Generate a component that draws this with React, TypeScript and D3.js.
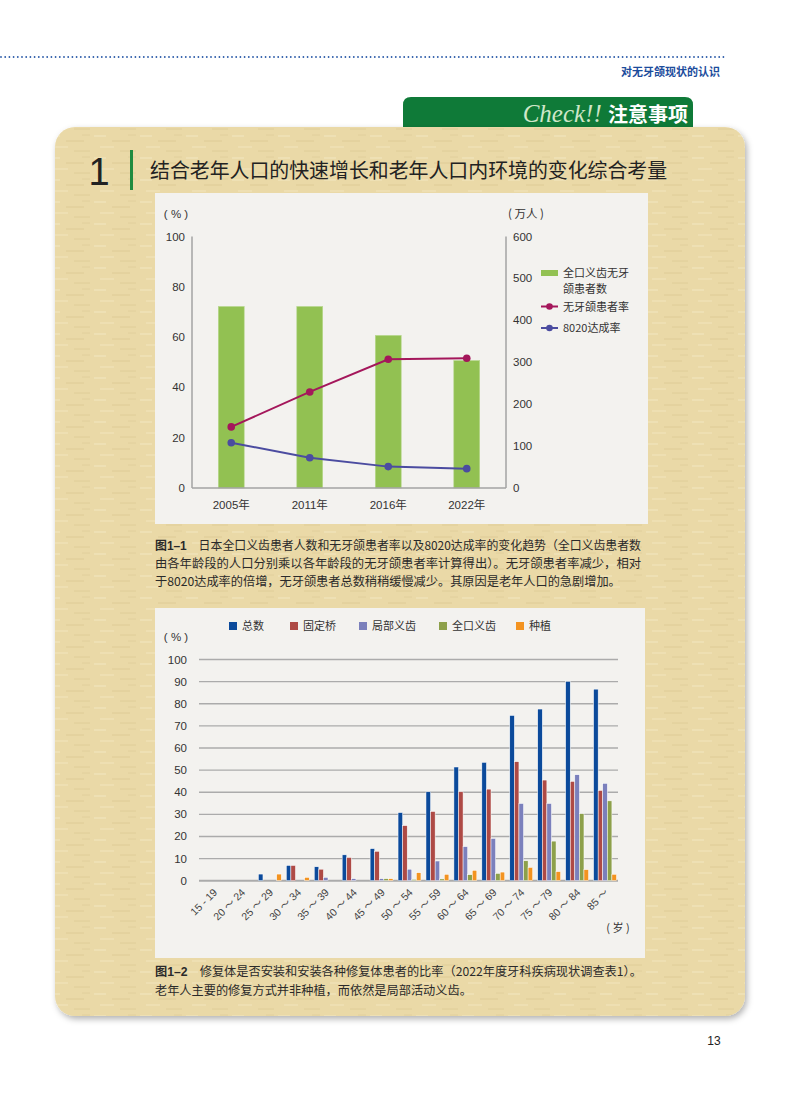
import * as d3 from 'd3';

// chart 1: trends
const years = ['2005年', '2011年', '2016年', '2022年'];
const edentulousPatients = [433, 433, 364, 304]; // 万人, right axis
const edentulousRate = [24.3, 38.2, 51.2, 51.6]; // %, left axis
const rate8020 = [18.0, 12.0, 8.5, 7.7]; // %, left axis
const leftTicks = [0, 20, 40, 60, 80, 100];
const rightTicks = [0, 100, 200, 300, 400, 500, 600];

// chart 2: prosthesis by age group
const ageGroups = ['15 - 19', '20 ～ 24', '25 ～ 29', '30 ～ 34', '35 ～ 39', '40 ～ 44', '45 ～ 49', '50 ～ 54',
  '55 ～ 59', '60 ～ 64', '65 ～ 69', '70 ～ 74', '75 ～ 79', '80 ～ 84', '85 ～'];
const seriesNames = ['总数', '固定桥', '局部义齿', '全口义齿', '种植'];
const totalPct = [0, 0, 3.0, 6.9, 6.3, 11.7, 14.5, 30.8, 40.2, 51.4, 53.5, 74.7, 77.6, 90.1, 86.6];
const bridgePct = [0, 0, 0, 6.9, 5.2, 10.5, 13.3, 24.9, 31.3, 40.2, 41.4, 53.8, 45.5, 44.9, 40.8];
const partialPct = [0, 0, 0, 0, 1.5, 0.9, 0.9, 5.2, 8.9, 15.4, 19.1, 34.9, 34.9, 47.9, 44.0];
const completePct = [0, 0, 0, 0, 0, 0, 0.9, 0.6, 0.8, 2.7, 3.3, 9.0, 17.9, 30.3, 36.1];
const implantPct = [0, 0, 3.0, 1.5, 0, 0, 0.9, 3.6, 2.9, 4.7, 3.9, 6.0, 4.1, 5.0, 2.9];
const pctTicks = [0, 10, 20, 30, 40, 50, 60, 70, 80, 90, 100];

const seriesValues = [totalPct, bridgePct, partialPct, completePct, implantPct];
const seriesColors = ['#0B4A9B', '#AE4A45', '#7B80BC', '#8DA04A', '#F39320'];

const caption1 = [
  '日本全口义齿患者人数和无牙颌患者率以及8020达成率的变化趋势（全口义齿患者数',
  '由各年龄段的人口分别乘以各年龄段的无牙颌患者率计算得出）。无牙颌患者率减少，相对',
  '于8020达成率的倍增，无牙颌患者总数稍稍缓慢减少。其原因是老年人口的急剧增加。',
];
const caption2 = [
  '修复体是否安装和安装各种修复体患者的比率（2022年度牙科疾病现状调查表1）。',
  '老年人主要的修复方式并非种植，而依然是局部活动义齿。',
];

const W = 800;
const H = 1093;
const SANS = '"Liberation Sans", "Noto Sans CJK SC", sans-serif';
const CJK = '"Noto Sans CJK SC", sans-serif';

function TrendChart() {
  const x = d3.scaleBand<string>().domain(years).range([192, 506]).paddingInner(0.67).paddingOuter(0.335);
  const yL = d3.scaleLinear().domain([0, 100]).range([488, 236.5]);
  const yR = d3.scaleLinear().domain([0, 600]).range([488, 236.5]);
  const cx = (i: number) => (x(years[i]) as number) + x.bandwidth() / 2;
  const line = d3.line<number>().x((_d, i) => cx(i)).y(d => yL(d));
  const axisColor = '#A3A3A3';

  return (
    <g fontFamily={SANS} fontSize={11.5} fill="#333">
      <rect x={155} y={193} width={493} height={331} fill="#F3F2EF" />
      <text x={176} y={218} textAnchor="middle">( % )</text>
      <text x={526} y={218} textAnchor="middle" fontFamily={CJK}>( 万人 )</text>
      {edentulousPatients.map((v, i) => (
        <rect key={i} x={x(years[i])} y={yR(v)} width={x.bandwidth()} height={yR(0) - yR(v)}
          fill="#92C152" stroke="#B7D88E" strokeWidth={0.6} />
      ))}
      <line x1={192} x2={192} y1={236.5} y2={488} stroke={axisColor} strokeWidth={1.5} />
      <line x1={506} x2={506} y1={236.5} y2={488} stroke={axisColor} strokeWidth={1.5} />
      <line x1={192} x2={506} y1={488} y2={488} stroke={axisColor} strokeWidth={1.5} />
      {leftTicks.map(t => (
        <text key={t} x={185} y={yL(t) + 4} textAnchor="end">{t}</text>
      ))}
      {rightTicks.map(t => (
        <text key={t} x={513} y={yR(t) + 4}>{t}</text>
      ))}
      {years.map((yr, i) => (
        <text key={yr} x={cx(i)} y={509} textAnchor="middle">{yr}</text>
      ))}
      <path d={line(edentulousRate) || ''} fill="none" stroke="#A4175B" strokeWidth={2} />
      {edentulousRate.map((v, i) => <circle key={i} cx={cx(i)} cy={yL(v)} r={3.8} fill="#A4175B" />)}
      <path d={line(rate8020) || ''} fill="none" stroke="#4B4CA0" strokeWidth={2} />
      {rate8020.map((v, i) => <circle key={i} cx={cx(i)} cy={yL(v)} r={3.8} fill="#4B4CA0" />)}
      <g fontFamily={CJK} fontSize={11}>
        <rect x={541} y={270} width={17} height={6} fill="#92C152" />
        <text x={563} y={277}>全口义齿无牙</text>
        <text x={563} y={293}>颌患者数</text>
        <line x1={541} x2={558} y1={306.5} y2={306.5} stroke="#A4175B" strokeWidth={2} />
        <circle cx={549.5} cy={306.5} r={3.3} fill="#A4175B" />
        <text x={563} y={310.5}>无牙颌患者率</text>
        <line x1={541} x2={558} y1={328} y2={328} stroke="#4B4CA0" strokeWidth={2} />
        <circle cx={549.5} cy={328} r={3.3} fill="#4B4CA0" />
        <text x={563} y={332}>8020达成率</text>
      </g>
    </g>
  );
}

function AgeChart() {
  const x = d3.scaleBand<string>().domain(ageGroups).range([200, 619]).paddingInner(0.18).paddingOuter(0.09);
  const xs = d3.scaleBand<string>().domain(seriesNames).range([0, x.bandwidth()]);
  const y = d3.scaleLinear().domain([0, 100]).range([880.7, 659.5]);
  const legendX = [229, 290, 359, 439, 516];

  return (
    <g fontFamily={SANS} fontSize={11.5} fill="#333">
      <rect x={155} y={608} width={490} height={350} fill="#F3F2EF" />
      {seriesNames.map((s, i) => (
        <g key={s}>
          <rect x={legendX[i]} y={622} width={8} height={8} fill={seriesColors[i]} />
          <text x={legendX[i] + 13} y={630} fontFamily={CJK} fontSize={11}>{s}</text>
        </g>
      ))}
      <text x={176} y={641} textAnchor="middle">( % )</text>
      {pctTicks.map(t => (
        <g key={t}>
          <line x1={199} x2={618} y1={y(t)} y2={y(t)} stroke="#ABABAB" strokeWidth={t === 0 ? 2 : 1.4} />
          <text x={187} y={y(t) + 4} textAnchor="end">{t}</text>
        </g>
      ))}
      {ageGroups.map((g, gi) => (
        <g key={g} transform={`translate(${x(g)},0)`}>
          {seriesNames.map((s, si) => {
            const v = seriesValues[si][gi];
            if (v <= 0) return null;
            return (
              <rect key={s} x={xs(s)} y={y(v)} width={xs.bandwidth()} height={y(0) - y(v)}
                fill={seriesColors[si]} stroke="#FFFFFF" strokeWidth={0.5} />
            );
          })}
        </g>
      ))}
      {ageGroups.map(g => {
        const px = (x(g) as number) + x.bandwidth() / 2 + 4;
        return (
          <text key={g} transform={`translate(${px},893) rotate(-45)`} textAnchor="end" fontSize={10.5} fill="#444">
            {g}
          </text>
        );
      })}
      <text x={618} y={932} textAnchor="middle" fontFamily={CJK} fontSize={11}>( 岁 )</text>
    </g>
  );
}

function Caption({ label, lines, x, y0, dy, justify }: { label: string; lines: string[]; x: number; y0: number; dy: number; justify: number[] }) {
  return (
    <g fontFamily={CJK} fontSize={12.2} fill="#2A2A2A">
      {lines.map((ln, i) => (
        <text key={i} x={x} y={y0 + i * dy} textLength={justify[i] || undefined} lengthAdjust="spacingAndGlyphs">
          {i === 0 && <tspan fontWeight="bold" fontFamily={SANS}>{label}</tspan>}
          {i === 0 ? '　' + ln : ln}
        </text>
      ))}
    </g>
  );
}

export default function App() {
  const dots = d3.range(0, 724, 4.2);
  return (
    <svg width={W} height={H} style={{ position: 'absolute', left: 0, top: 0, display: 'block' }}>
      <defs>
        <pattern id="paper" width="46" height="22" patternUnits="userSpaceOnUse">
          <rect width="46" height="22" fill="#EAD9A7" />
          <line x1="2" x2="14" y1="4" y2="4" stroke="#F3E7C2" strokeWidth="1" />
          <line x1="20" x2="38" y1="9" y2="9" stroke="#DCC890" strokeWidth="0.8" />
          <line x1="8" x2="22" y1="15" y2="15" stroke="#F2E5BE" strokeWidth="1" />
          <line x1="28" x2="44" y1="19" y2="19" stroke="#DDCA94" strokeWidth="0.8" />
          <line x1="36" x2="44" y1="3" y2="3" stroke="#DFCD98" strokeWidth="0.8" />
        </pattern>
        <filter id="shadow" x="-5%" y="-5%" width="110%" height="110%">
          <feDropShadow dx="2" dy="3" stdDeviation="3" floodColor="#000" floodOpacity="0.3" />
        </filter>
      </defs>
      <rect width={W} height={H} fill="#FFFFFF" />
      {dots.map(d => <circle key={d} cx={d + 1} cy={57} r={0.9} fill="#2A5AA8" />)}
      <text x={720} y={76} textAnchor="end" fontFamily={CJK} fontWeight="bold" fontSize={11} fill="#1C4C9C">
        对无牙颌现状的认识
      </text>
      <path d="M403,136 V105 Q403,97 411,97 H685 Q693,97 693,105 V136 Z" fill="#0F7A38" />
      <text x={688} y={122} textAnchor="end">
        <tspan fontFamily='"Liberation Serif", serif' fontStyle="italic" fontSize={25} fill="#CFE7C8">Check!! </tspan>
        <tspan fontFamily={CJK} fontWeight="bold" fontSize={20} fill="#FFFFFF">注意事项</tspan>
      </text>
      <rect x={55} y={127} width={690} height={889} rx={20} fill="url(#paper)" filter="url(#shadow)" />
      <text x={99} y={185} textAnchor="middle" fontFamily={SANS} fontSize={38} fill="#222">1</text>
      <rect x={130} y={150} width={3} height={40} fill="#1F8B40" />
      <text x={150} y={178} fontFamily={CJK} fontSize={19.9} fill="#222">
        结合老年人口的快速增长和老年人口内环境的变化综合考量
      </text>
      <TrendChart />
      <Caption label="图1–1" lines={caption1} x={155} y0={550} dy={18} justify={[486, 486, 0]} />
      <AgeChart />
      <Caption label="图1–2" lines={caption2} x={155} y0={976} dy={18.5} justify={[0, 0]} />
      <text x={714} y={1045} textAnchor="middle" fontFamily={SANS} fontSize={12} fill="#222">13</text>
    </svg>
  );
}
